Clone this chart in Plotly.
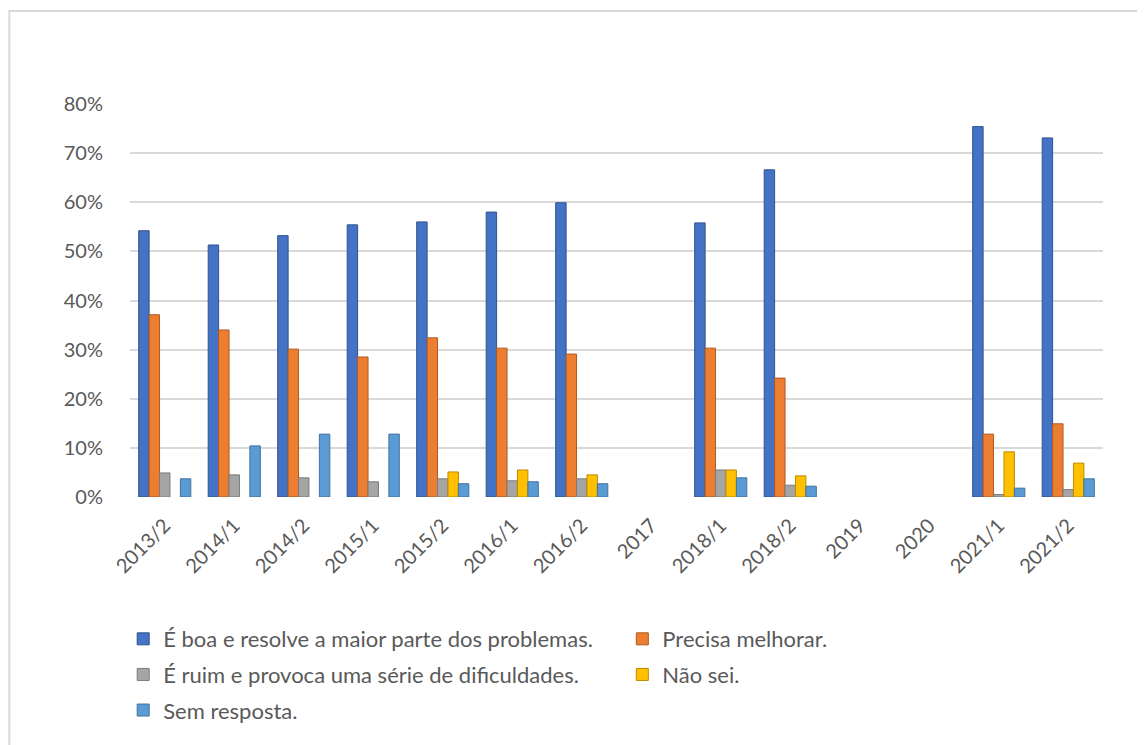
import plotly.graph_objects as go

categorias = ['2013/2', '2014/1', '2014/2', '2015/1', '2015/2', '2016/1', '2016/2',
              '2017', '2018/1', '2018/2', '2019', '2020', '2021/1', '2021/2']

boa = [0.542, 0.513, 0.532, 0.554, 0.560, 0.580, 0.599,
       None, 0.558, 0.666, None, None, 0.754, 0.731]
precisa = [0.371, 0.340, 0.301, 0.285, 0.324, 0.303, 0.291,
           None, 0.303, 0.242, None, None, 0.128, 0.149]
ruim = [0.049, 0.045, 0.039, 0.031, 0.037, 0.033, 0.037,
        None, 0.055, 0.024, None, None, 0.005, 0.015]
nao_sei = [None, None, None, None, 0.051, 0.055, 0.045,
           None, 0.055, 0.043, None, None, 0.092, 0.069]
sem_resposta = [0.037, 0.104, 0.128, 0.128, 0.027, 0.031, 0.027,
                None, 0.039, 0.022, None, None, 0.018, 0.037]

# (nome, valores, cor, borda, legenda)
series = [
    ('É boa e resolve a maior parte dos problemas.', boa, '#4472C4', '#2F528F', 'legend'),
    ('Precisa melhorar.', precisa, '#ED7D31', '#AE5A21', 'legend2'),
    ('É ruim e provoca uma série de dificuldades.', ruim, '#A5A5A5', '#7B7B7B', 'legend'),
    ('Não sei.', nao_sei, '#FFC000', '#BC8C00', 'legend2'),
    ('Sem resposta.', sem_resposta, '#5B9BD5', '#41719C', 'legend'),
]

fig = go.Figure()
for i, (nome, vals, cor, borda, leg) in enumerate(series):
    fig.add_trace(go.Bar(x=categorias, y=vals, name=nome, legend=leg,
                         legendgroup=f'g{i}',
                         marker=dict(color=cor, line=dict(color=borda, width=1)),
                         hoverinfo='x+y'))

cinza = '#595959'
fonte = 'Lato, Open Sans, sans-serif'
leg_font = dict(family=fonte, size=22, color=cinza)

# a página tem 8px de margem no body, por isso tudo é deslocado 8px
fig.update_layout(
    width=1145, height=745,
    margin=dict(l=122, r=50, t=96, b=256, autoexpand=False),
    paper_bgcolor='white', plot_bgcolor='white',
    font=dict(family=fonte, color=cinza),
    barmode='group', bargap=0.25, bargroupgap=0.0,
    xaxis=dict(tickangle=-45, showgrid=False, showline=False, zeroline=False,
               ticklabelstandoff=12,
               tickfont=dict(size=20, color=cinza)),
    yaxis=dict(range=[0, 0.8], dtick=0.1, tickformat='.0%',
               gridcolor='#D9D9D9', gridwidth=2, zeroline=False,
               showline=False, ticklabelstandoff=26,
               tickfont=dict(size=20, color=cinza)),
    legend=dict(x=-0.007, xanchor='left', y=-0.308, yanchor='top',
                font=leg_font, tracegroupgap=4, bgcolor='rgba(0,0,0,0)'),
    legend2=dict(x=0.506, xanchor='left', y=-0.308, yanchor='top',
                 font=leg_font, tracegroupgap=4, bgcolor='rgba(0,0,0,0)'),
    showlegend=True,
)

# moldura cinza clara do gráfico
fig.add_shape(type='rect', xref='paper', yref='paper',
              x0=-0.124, x1=1.1, y0=-0.8, y1=1.2366,
              line=dict(color='#D9D9D9', width=2), fillcolor='rgba(0,0,0,0)',
              layer='below')

fig.write_html('out.html')
